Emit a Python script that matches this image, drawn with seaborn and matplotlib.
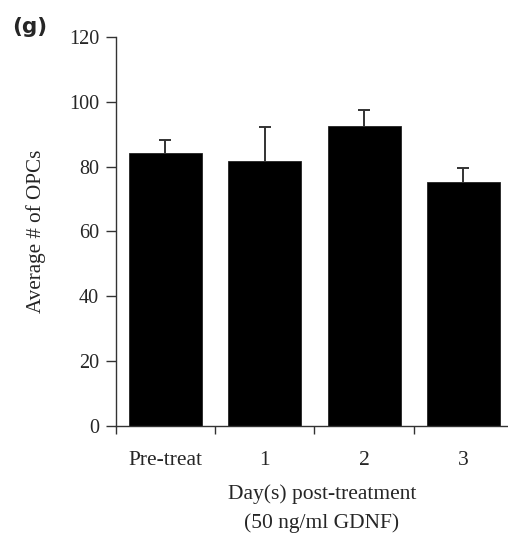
import matplotlib
matplotlib.use("Agg")
import matplotlib.pyplot as plt
import seaborn as sns
import pandas as pd
import numpy as np

# Average OPC counts before and after GDNF treatment
categories = ["Pre-treat", "1", "2", "3"]
mean_opcs = [84.2, 81.7, 92.6, 75.2]
sem_opcs = [4.1, 10.6, 5.0, 4.4]
y_ticks = [0, 20, 40, 60, 80, 100, 120]

df = pd.DataFrame({"day": categories, "opcs": mean_opcs})

sns.set_style("white")
plt.rcParams["font.family"] = ["Liberation Serif", "DejaVu Serif"]

W, H = 508, 535
fig = plt.figure(figsize=(W / 100, H / 100), dpi=100)
ax = fig.add_axes([115.7 / W, (H - 425.7) / H, (513 - 115.7) / W, (425.7 - 37) / H])

sns.barplot(data=df, x="day", y="opcs", color="black", saturation=1,
            width=0.735, errorbar=None, ax=ax, edgecolor="#222222", linewidth=0.6)

# upward-only error bars; the lower cap is hidden
xpos = np.arange(len(categories))
_, caps, _ = ax.errorbar(xpos, mean_opcs, yerr=[np.zeros(len(sem_opcs)), sem_opcs],
                         fmt="none", ecolor="#333333", elinewidth=1.4, capsize=4,
                         capthick=1.4, zorder=0.5)
caps[0].set_visible(False)

ax.set_xlim(-0.5, len(categories) - 0.5)
ax.set_ylim(0, 120)
ax.set_yticks(y_ticks)
ax.set_yticklabels([str(v) for v in y_ticks], fontsize=14.5)

# category labels without tick marks; ticks drawn at category boundaries
ax.set_xticks(xpos)
ax.set_xticklabels(categories, fontsize=15.5)
ax.tick_params(axis="x", which="major", bottom=True, length=0, pad=18)
ax.set_xticks(np.arange(len(categories) + 1) - 0.5, minor=True)
ax.tick_params(axis="x", which="minor", bottom=True, length=6, width=1.0,
               color="#333333", direction="out")
ax.tick_params(axis="y", left=True, length=7, width=1.0, color="#333333",
               direction="out", pad=5)

for side in ["top", "right"]:
    ax.spines[side].set_visible(False)
for side in ["left", "bottom"]:
    ax.spines[side].set_color("#333333")
    ax.spines[side].set_linewidth(1.0)

ax.set_xlabel("")
ax.set_ylabel("Average # of OPCs", fontsize=15.2)
ax.yaxis.set_label_coords((46 - 115.7) / (513 - 115.7), 0.5)

fig.text(322 / W, 1 - 494 / H, "Day(s) post-treatment", ha="center", va="center", fontsize=15.5)
fig.text(322 / W, 1 - 523 / H, "(50 ng/ml GDNF)", ha="center", va="center", fontsize=15.5)
fig.text(12 / W, 1 - 27 / H, "(g)", ha="left", va="center", fontsize=15.5,
         fontweight="bold", family=["DejaVu Sans"])

fig.savefig("out.png", dpi=100)
